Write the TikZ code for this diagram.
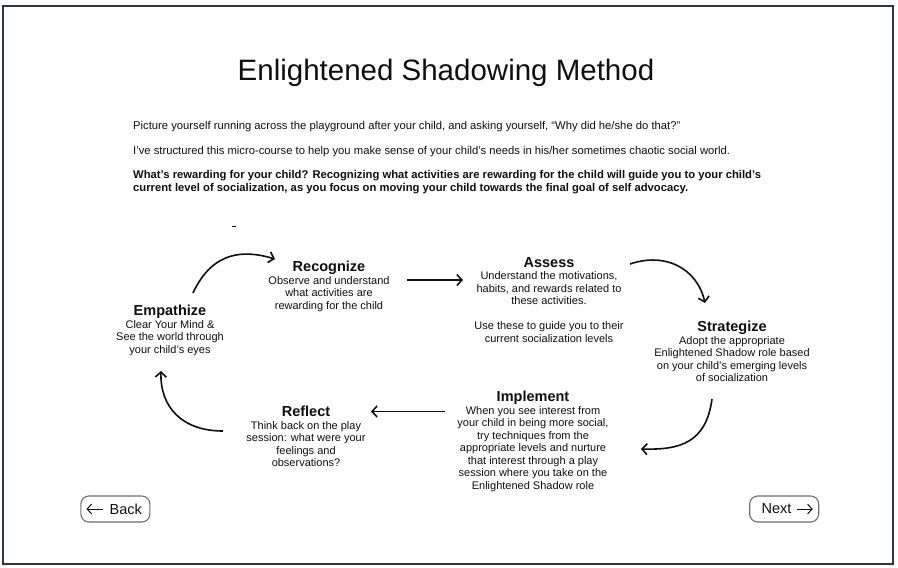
\documentclass[tikz,border=0pt]{standalone}
\usepackage{fontspec}
\setmainfont{Liberation Sans}
\usetikzlibrary{arrows.meta}
\definecolor{frame}{RGB}{50,56,54}
\definecolor{btn}{RGB}{110,110,110}
\definecolor{ink}{RGB}{15,15,15}
\begin{document}
\begin{tikzpicture}[x=1pt,y=-1pt,
  stepnode/.style={anchor=north,align=center,inner sep=0pt,text=ink,
    font=\fontsize{11}{12.5}\selectfont},
  conn/.style={line width=1.6pt,draw=ink,-{Straight Barb[length=5pt,width=11pt]}},
  btnbox/.style={draw=btn,line width=1.1pt,rounded corners=8pt,minimum width=69pt,minimum height=26pt,inner sep=0pt},
  btntext/.style={anchor=west,inner sep=0pt,text=ink,font=\fontsize{14.5}{16}\selectfont},
  btnarrow/.style={ink,line width=1pt,-{Straight Barb[length=4.5pt,width=10pt]}}
]
\newcommand{\sttl}[1]{{\fontsize{14.5}{12.5}\selectfont\bfseries #1}}
\useasboundingbox (0,0) rectangle (898,568);
\fill[white] (0,0) rectangle (898,568);
\draw[frame,line width=2.3pt] (2.8,5.8) rectangle (892.8,563.8);

\node[inner sep=0pt,text=ink,font=\fontsize{29.5}{32}\selectfont] (title) at (446,73) {Enlightened Shadowing Method};

\node[anchor=north west,align=left,inner sep=0pt,text=ink,font=\fontsize{11.25}{13}\selectfont] (intro) at (133,121.5)
{Picture yourself running across the playground after your child, and asking yourself, “Why did he/she do that?”\\[12pt]
I’ve structured this micro-course to help you make sense of your child’s needs in his/her sometimes chaotic social world.\\[11pt]
\bfseries What’s rewarding for your child? Recognizing what activities are rewarding for the child will guide you to your child’s\\
\bfseries current level of socialization, as you focus on moving your child towards the final goal of self advocacy.};

\fill[ink] (231.7,225.6) rectangle (235.7,226.8);

\node[stepnode] (emp) at (170,305) {\sttl{Empathize}\\Clear Your Mind \&\\See the world through\\your child’s eyes};
\node[stepnode] (rec) at (329,261) {\sttl{Recognize}\\Observe and understand\\what activities are\\rewarding for the child};
\node[stepnode] (ass) at (549,257) {\sttl{Assess}\\Understand the motivations,\\habits, and rewards related to\\these activities.\\[12.5pt]Use these to guide you to their\\current socialization levels};
\node[stepnode] (str) at (732,321) {\sttl{Strategize}\\Adopt the appropriate\\Enlightened Shadow role based\\on your child’s emerging levels\\of socialization};
\node[stepnode] (imp) at (533,391) {\sttl{Implement}\\When you see interest from\\your child in being more social,\\try techniques from the\\appropriate levels and nurture\\that interest through a play\\session where you take on the\\Enlightened Shadow role};
\node[stepnode] (ref) at (306,406) {\sttl{Reflect}\\Think back on the play\\session: what were your\\feelings and\\observations?};

\coordinate (empout) at (193,293);
\coordinate (recin) at (275,259);
\coordinate (recout) at (407,280);
\coordinate (assin) at (463,280);
\coordinate (assout) at (630,264);
\coordinate (strin) at (705,303);
\coordinate (strout) at (712,399);
\coordinate (impin) at (641,449);
\coordinate (impout) at (445,411.5);
\coordinate (refin) at (371,411.5);
\coordinate (refout) at (223,431);
\coordinate (empin) at (161,371);

\draw[conn] (empout) .. controls (213,250) and (245,250) .. (recin);
\draw[conn] (recout) -- (assin);
\draw[conn] (assout) .. controls (665,252) and (697,268) .. (strin);
\draw[conn] (strout) .. controls (706,443) and (680,450) .. (impin);
\draw[conn] (impout) -- (refin);
\draw[conn] (refout) .. controls (183,431) and (160,408) .. (empin);

\node[btnbox] (back) at (115.4,509) {};
\node[btntext] (backtxt) at (109.5,509) {Back};
\node[btnbox] (next) at (784.2,509) {};
\node[btntext] (nexttxt) at (761.5,509) {Next};
\draw[btnarrow] ([xshift=-7pt]backtxt.west) -- ([xshift=-23pt]backtxt.west);
\draw[btnarrow] ([xshift=5pt]nexttxt.east) -- ([xshift=21pt]nexttxt.east);
\end{tikzpicture}
\end{document}
